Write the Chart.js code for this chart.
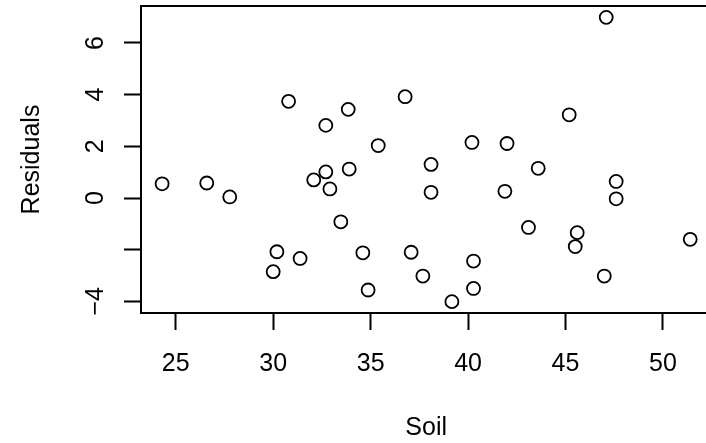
<!DOCTYPE html>
<html>
<head>
<meta charset="utf-8">
<script src="https://cdn.jsdelivr.net/npm/chart.js@4/dist/chart.umd.min.js"></script>
<style>
  html, body { margin:0; padding:0; background:#fff; overflow:hidden; }
  #wrap { width:706px; height:443px; }
</style>
</head>
<body>
<div id="wrap"><canvas id="c" width="706" height="443"></canvas></div>
<script>
// ── data ─────────────────────────────────────────────────────────────────────
const soil = [
  24.30, 26.59, 27.77, 30.79, 32.70, 32.08, 32.70, 32.91, 33.85, 33.90,
  33.47, 47.09, 36.77, 45.19, 35.39, 40.20, 42.00, 38.10, 43.60, 38.10,
  41.89, 47.60, 47.60, 43.10, 30.19, 31.38, 30.00, 34.60, 37.08, 34.87,
  37.68, 40.28, 40.28, 39.17, 45.60, 45.50, 51.40, 46.99
];
const residuals = [
   0.55,  0.58,  0.04,  3.74,  2.81,  0.70,  1.01,  0.35,  3.43,  1.12,
  -0.92,  6.99,  3.92,  3.22,  2.03,  2.15,  2.11,  1.30,  1.15,  0.22,
   0.26,  0.64, -0.03, -1.14, -2.08, -2.34, -2.85, -2.12, -2.10, -3.56,
  -3.02, -2.44, -3.50, -4.01, -1.34, -1.88, -1.60, -3.02
];
const xTicks = [25, 30, 35, 40, 45, 50];
const xTickLabels = ["25", "30", "35", "40", "45", "50"];
const yTicks = [-4, -2, 0, 2, 4, 6];
const yTickLabels = ["\u22124", "", "0", "2", "4", "6"];   // R drops the -2 label
const xTitle = "Soil";
const yTitle = "Residuals";

// R style 4% range extension
const ext = (a) => { const lo = Math.min(...a), hi = Math.max(...a), d = (hi - lo) * 0.04; return [lo - d, hi + d]; };
const [xMin, xMaxFull] = ext(soil);
const [yMin, yMax] = ext(residuals);
// the original picture is cut a few px before the right side of the plot box
const xCut = 52.21;

const FONT = '"Liberation Sans", Arial, Helvetica, sans-serif';
const FS = 25;

// box + tick labels + axis titles, R base graphics look
const rDecor = {
  id: "rDecor",
  afterDraw(chart) {
    const { ctx, chartArea: a, scales: { x, y } } = chart;
    const plotMid = (a.left + x.getPixelForValue(xMaxFull)) / 2;
    ctx.save();
    ctx.strokeStyle = "#000";
    ctx.lineWidth = 2;
    ctx.beginPath();
    ctx.moveTo(a.right + 4, a.top);
    ctx.lineTo(a.left, a.top);
    ctx.lineTo(a.left, a.bottom);
    ctx.lineTo(a.right + 4, a.bottom);
    ctx.stroke();

    ctx.fillStyle = "#000";
    ctx.font = `${FS}px ${FONT}`;
    ctx.textBaseline = "alphabetic";
    ctx.textAlign = "center";
    xTicks.forEach((v, i) => ctx.fillText(xTickLabels[i], x.getPixelForValue(v), a.bottom + 58));
    ctx.fillText(xTitle, plotMid, a.bottom + 122);

    yTicks.forEach((v, i) => {
      if (!yTickLabels[i]) return;
      ctx.save();
      ctx.translate(a.left - 38, y.getPixelForValue(v));
      ctx.rotate(-Math.PI / 2);
      ctx.fillText(yTickLabels[i], 0, 0);
      ctx.restore();
    });
    ctx.save();
    ctx.translate(39, (a.top + a.bottom) / 2);
    ctx.rotate(-Math.PI / 2);
    ctx.fillText(yTitle, 0, 0);
    ctx.restore();
    ctx.restore();
  }
};

const axisBase = {
  type: "linear",
  border: { display: false },
  grid: { display: true, drawOnChartArea: false, drawTicks: true, tickLength: 17, tickWidth: 2, tickColor: "#000" },
  ticks: { display: false },
  title: { display: false },
};

new Chart(document.getElementById("c"), {
  type: "scatter",
  data: {
    datasets: [{
      data: soil.map((s, i) => ({ x: s, y: residuals[i] })),
      pointStyle: "circle",
      pointRadius: 6.5,
      pointHoverRadius: 6.5,
      borderWidth: 1.8,
      borderColor: "#000",
      backgroundColor: "rgba(0,0,0,0)",
    }],
  },
  options: {
    responsive: false,
    animation: false,
    events: [],
    layout: { autoPadding: false, padding: { left: 124, top: 6, right: 0, bottom: 113 } },
    plugins: { legend: { display: false }, tooltip: { enabled: false } },
    scales: {
      x: { ...axisBase, position: "bottom", min: xMin, max: xCut,
           afterBuildTicks: s => { s.ticks = xTicks.map(v => ({ value: v })); } },
      y: { ...axisBase, position: "left", min: yMin, max: yMax,
           afterBuildTicks: s => { s.ticks = yTicks.map(v => ({ value: v })); } },
    },
  },
  plugins: [rDecor],
});
</script>
</body>
</html>
